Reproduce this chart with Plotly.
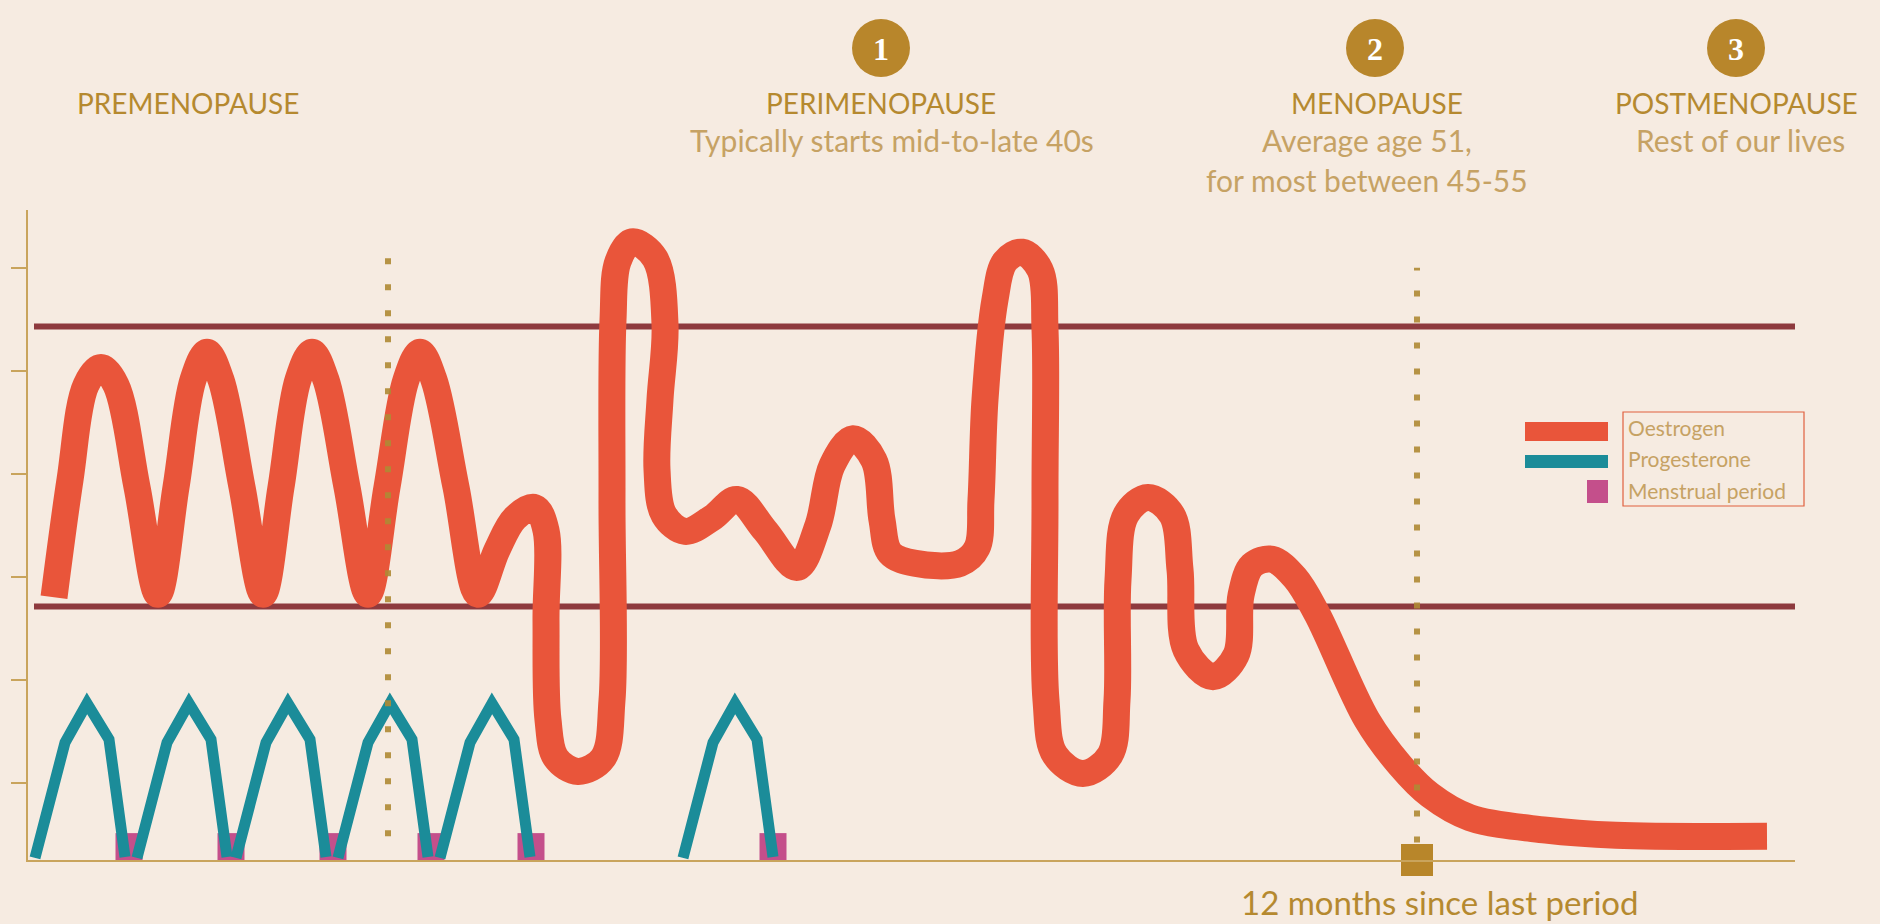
import plotly.graph_objects as go

# ---------------- data (x: time units, y: hormone level) ----------------
oestrogen_x = [2.6, 4.2, 5.8, 7.3, 8.8, 10.9, 13.0,
               14.8, 16.5, 17.9, 19.3, 21.4, 23.5,
               25.3, 27.0, 28.4, 29.8, 31.9, 34.0,
               35.9, 37.8, 39.2, 40.6, 42.8, 45.0,
               46.9, 48.7, 50.7, 51.8, 51.8, 52.0, 52.8, 55.0, 57.5, 58.4, 58.4,
               58.5, 59.0, 60.4, 62.7, 63.7, 63.2, 62.9, 63.6, 65.7, 68.4, 70.9,
               73.7, 76.9, 79.0, 80.4, 82.5, 84.6, 85.4, 86.2, 88.7, 93.2, 94.9,
               95.3, 95.7, 96.7, 97.7, 99.4, 101.2, 101.7, 101.7, 101.8, 102.7,
               105.5, 108.2, 108.9, 109.0, 109.8, 112.0, 114.4, 115.2, 115.8,
               118.5, 120.8, 121.3, 122.4, 124.4, 126.7, 128.9, 133.9, 137.2,
               140.2, 144.2, 151.8, 158.8, 173.9]
oestrogen_y = [2.55, 3.69, 4.61, 4.78, 4.61, 3.62, 2.58,
               3.62, 4.66, 4.93, 4.66, 3.62, 2.58,
               3.62, 4.66, 4.93, 4.66, 3.62, 2.58,
               3.62, 4.66, 4.93, 4.66, 3.62, 2.58,
               3.01, 3.32, 3.42, 3.20, 2.33, 1.36, 0.99, 0.86, 0.99, 1.55, 3.50,
               5.24, 5.81, 6.00, 5.84, 5.20, 4.47, 3.79, 3.35, 3.19, 3.32, 3.50,
               3.20, 2.84, 3.25, 3.83, 4.09, 3.88, 3.30, 2.98, 2.88, 2.88, 3.03,
               3.50, 4.47, 5.44, 5.81, 5.90, 5.73, 5.15, 3.50, 1.55, 1.02,
               0.84, 1.02, 1.55, 2.72, 3.35, 3.52, 3.35, 2.82, 2.04,
               1.78, 1.99, 2.57, 2.86, 2.92, 2.74, 2.39, 1.36, 0.92,
               0.63, 0.41, 0.29, 0.24, 0.23]

progesterone_cycles_x = [
    [0.7, 3.7, 5.9, 8.1, 9.7],
    [10.9, 13.9, 16.1, 18.3, 19.9],
    [20.8, 23.8, 26.0, 28.2, 29.8],
    [31.0, 34.0, 36.2, 38.4, 40.0],
    [41.2, 44.2, 46.4, 48.6, 50.2],
    [65.5, 68.5, 70.7, 72.9, 74.5],
]
progesterone_cycle_y = [0.02, 1.14, 1.52, 1.17, 0.03]

period_x = [10.1, 20.3, 30.5, 40.3, 50.3, 74.5]
period_y = [0.13, 0.13, 0.13, 0.13, 0.13, 0.13]

upper_level = 5.18
lower_level = 2.46
level_x = [0.6, 176.7]

phase_marker_x = [36.0, 138.9]
phase_marker_y0 = [0.23, 0.17]
phase_marker_y1 = [5.86, 5.75]

last_period_x = [138.9]
last_period_y = [0.0]

y_tickvals = [0.75, 1.75, 2.75, 3.75, 4.75, 5.75]

phase_titles = ["PREMENOPAUSE", "PERIMENOPAUSE", "MENOPAUSE", "POSTMENOPAUSE"]
phase_numbers = ["", "1", "2", "3"]
phase_subtitles = [[], ["Typically starts mid-to-late 40s"],
                   ["Average age 51,", "for most between 45-55"],
                   ["Rest of our lives"]]
legend_labels = ["Oestrogen", "Progesterone", "Menstrual period"]
bottom_note = "12 months since last period"

# ---------------- style / layout ----------------
W, H = 1880, 924
L, R, T, B = 28, 85, 210, 64
BG = "#F6EBE1"
ORANGE = "#E9553A"
TEAL = "#1B8C99"
MAGENTA = "#C44F8B"
DARKRED = "#8E3A3E"
GOLD = "#B5892F"
GOLD_LIGHT = "#C6A264"
AXIS_GOLD = "#C9A45C"


def pxx(p):
    return (p - L) / (W - L - R)


def pxy(p):
    return (H - B - p) / (H - T - B)


fig = go.Figure()

# oestrogen
fig.add_trace(go.Scatter(x=oestrogen_x, y=oestrogen_y, mode="lines",
                         line=dict(color=ORANGE, width=27, shape="spline", smoothing=1.0),
                         showlegend=False, hoverinfo="skip"))

# period markers
fig.add_trace(go.Scatter(x=period_x, y=period_y, mode="markers",
                         marker=dict(symbol="square", size=27, color=MAGENTA),
                         cliponaxis=False, showlegend=False, hoverinfo="skip"))

# progesterone
px_all, py_all = [], []
for cx in progesterone_cycles_x:
    px_all += cx + [None]
    py_all += progesterone_cycle_y + [None]
fig.add_trace(go.Scatter(x=px_all, y=py_all, mode="lines",
                         line=dict(color=TEAL, width=11),
                         connectgaps=False, showlegend=False, hoverinfo="skip"))

# last period marker
fig.add_trace(go.Scatter(x=last_period_x, y=last_period_y, mode="markers",
                         marker=dict(symbol="square", size=32, color="#B8862A"),
                         cliponaxis=False, showlegend=False, hoverinfo="skip"))

shapes = []
for lv in (upper_level, lower_level):
    shapes.append(dict(type="line", xref="x", yref="y", x0=level_x[0], x1=level_x[1],
                       y0=lv, y1=lv, line=dict(color=DARKRED, width=6), layer="below"))
for xm, y0, y1 in zip(phase_marker_x, phase_marker_y0, phase_marker_y1):
    shapes.append(dict(type="line", xref="x", yref="y", x0=xm, x1=xm, y0=y0, y1=y1,
                       line=dict(color="#B08A35", width=6, dash="6px,20px"),
                       layer="above", opacity=0.9))

annotations = []
title_px = [188, 881, 1377, 1736]
circle_px = [None, 881, 1375, 1736]
sub_px = [None, 892, 1367, 1740]
sub_py = [140, 180]
for i, t in enumerate(phase_titles):
    annotations.append(dict(x=pxx(title_px[i]), y=pxy(103), xref="paper", yref="paper",
                            text=t, showarrow=False, xanchor="center", yanchor="middle",
                            font=dict(family="Lato", size=28, color=GOLD)))
    if phase_numbers[i]:
        shapes.append(dict(type="circle", xref="paper", yref="paper",
                           xsizemode="pixel", ysizemode="pixel",
                           xanchor=pxx(circle_px[i]), yanchor=pxy(48),
                           x0=-29, x1=29, y0=-29, y1=29,
                           fillcolor="#B8862B", line=dict(width=0)))
        annotations.append(dict(x=pxx(circle_px[i]), y=pxy(49), xref="paper", yref="paper",
                                text="<b>" + phase_numbers[i] + "</b>", showarrow=False,
                                xanchor="center", yanchor="middle",
                                font=dict(family="Liberation Serif", size=32, color="white")))
    for j, s in enumerate(phase_subtitles[i]):
        annotations.append(dict(x=pxx(sub_px[i]), y=pxy(sub_py[j]), xref="paper", yref="paper",
                                text=s, showarrow=False, xanchor="center", yanchor="middle",
                                font=dict(family="Lato", size=30, color=GOLD_LIGHT)))

annotations.append(dict(x=pxx(1440), y=pxy(902), xref="paper", yref="paper",
                        text=bottom_note, showarrow=False, xanchor="center", yanchor="middle",
                        font=dict(family="Lato", size=33, color=GOLD)))

# legend (custom)
shapes += [
    dict(type="rect", xref="paper", yref="paper", x0=pxx(1525), x1=pxx(1608),
         y0=pxy(441), y1=pxy(422), fillcolor=ORANGE, line=dict(width=0)),
    dict(type="rect", xref="paper", yref="paper", x0=pxx(1525), x1=pxx(1608),
         y0=pxy(468), y1=pxy(455), fillcolor=TEAL, line=dict(width=0)),
    dict(type="rect", xref="paper", yref="paper", x0=pxx(1587), x1=pxx(1608),
         y0=pxy(503), y1=pxy(480), fillcolor=MAGENTA, line=dict(width=0)),
    dict(type="rect", xref="paper", yref="paper", x0=pxx(1623), x1=pxx(1804),
         y0=pxy(506), y1=pxy(412), fillcolor="rgba(0,0,0,0)",
         line=dict(color="#E0603F", width=1.2)),
]
for lab, yy in zip(legend_labels, [427, 458, 490]):
    annotations.append(dict(x=pxx(1626), y=pxy(yy), xref="paper", yref="paper",
                            text=lab, showarrow=False, xanchor="left", yanchor="middle",
                            font=dict(family="Lato", size=21, color=GOLD_LIGHT)))

fig.update_layout(
    width=W, height=H,
    margin=dict(l=L, r=R, t=T, b=B),
    paper_bgcolor=BG, plot_bgcolor=BG,
    shapes=shapes, annotations=annotations,
    showlegend=False,
    xaxis=dict(range=[0, 176.7], showgrid=False, zeroline=False, showticklabels=False,
               ticks="", showline=True, linecolor=AXIS_GOLD, linewidth=1.5, fixedrange=True),
    yaxis=dict(range=[0, 6.31], showgrid=False, zeroline=False, showticklabels=False,
               ticks="outside", ticklen=15, tickwidth=1.5, tickcolor=AXIS_GOLD,
               tickvals=y_tickvals, showline=True, linecolor=AXIS_GOLD, linewidth=1.5,
               fixedrange=True),
)

fig.write_html("out.html", config={"displayModeBar": False},
               post_script="document.body.style.margin='0';"
                           "document.body.style.background='" + BG + "';")
